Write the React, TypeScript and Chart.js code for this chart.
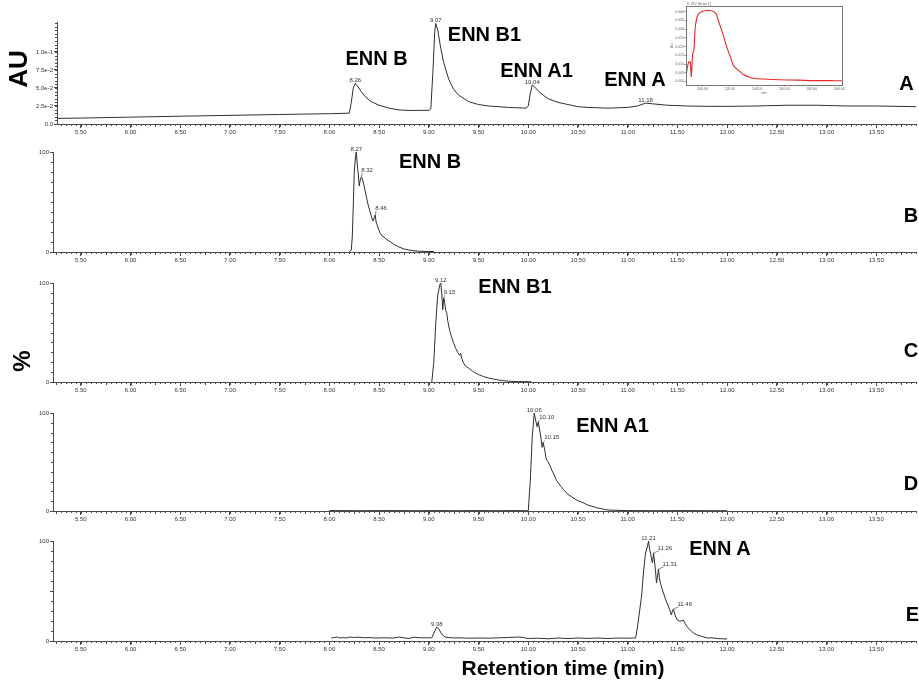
import React, { useEffect, useRef } from 'react';
import { Chart, registerables } from 'chart.js';

Chart.register(...registerables);

const FONT = "'Liberation Sans', Arial, Helvetica, sans-serif";
const TRACE = '#2e2e2e';
const AXIS = '#4a4a4a';
const TICK_TEXT = '#333';

// ---------- shared x axis (retention time, min) ----------
const timeTicks = [5.5, 6.0, 6.5, 7.0, 7.5, 8.0, 8.5, 9.0, 9.5, 10.0, 10.5, 11.0, 11.5, 12.0, 12.5, 13.0, 13.5];

// ---------- Panel A: UV chromatogram (AU) ----------
const uvTime = [5.26, 5.5, 6.0, 6.5, 7.0, 7.5, 8.0, 8.2, 8.22, 8.24, 8.26, 8.28, 8.32, 8.36, 8.42, 8.5, 8.6, 8.7, 8.8, 9.0, 9.02, 9.04, 9.06, 9.07, 9.09, 9.12, 9.15, 9.2, 9.25, 9.3, 9.4, 9.5, 9.6, 9.8, 9.98, 10.0, 10.02, 10.04, 10.06, 10.1, 10.15, 10.2, 10.3, 10.4, 10.5, 10.6, 10.8, 11.0, 11.1, 11.18, 11.25, 11.4, 11.6, 11.8, 12.0, 12.3, 12.6, 12.9, 13.2, 13.5, 13.9];
const uvAbs = [0.0078, 0.0082, 0.0095, 0.0108, 0.012, 0.0132, 0.0143, 0.015, 0.03, 0.05, 0.0565, 0.053, 0.045, 0.038, 0.031, 0.026, 0.022, 0.0195, 0.0188, 0.019, 0.021, 0.07, 0.13, 0.1395, 0.13, 0.105, 0.085, 0.062, 0.048, 0.04, 0.031, 0.027, 0.025, 0.023, 0.022, 0.025, 0.042, 0.054, 0.052, 0.046, 0.04, 0.035, 0.03, 0.027, 0.024, 0.023, 0.022, 0.023, 0.025, 0.029, 0.028, 0.026, 0.025, 0.0245, 0.0245, 0.025, 0.026, 0.026, 0.025, 0.025, 0.024];
const uvYTicks = [0, 0.025, 0.05, 0.075, 0.1];
const uvYTickLabels = ['0.0', '2.5e-2', '5.0e-2', '7.5e-2', '1.0e-1'];
const uvApexPeaks = [8.26, 9.07, 10.04, 11.18];

// ---------- Panel B: ENN B (%) ----------
const ennBTime = [8.2, 8.22, 8.23, 8.24, 8.25, 8.26, 8.27, 8.28, 8.29, 8.3, 8.31, 8.32, 8.33, 8.35, 8.37, 8.39, 8.41, 8.43, 8.44, 8.45, 8.46, 8.47, 8.49, 8.51, 8.53, 8.55, 8.57, 8.6, 8.63, 8.66, 8.7, 8.75, 8.8, 8.85, 8.9, 9.0, 9.05];
const ennBInt = [0, 2, 15, 45, 80, 92, 100, 88, 78, 66, 72, 75, 74, 66, 56, 47, 40, 33, 31, 34, 37, 30, 24, 19, 16, 15, 13, 11, 9, 7, 5, 3, 2, 1.2, 0.8, 0.5, 0.5];
const ennBApex = [8.27];
const ennBSide = [8.32, 8.46];

// ---------- Panel C: ENN B1 (%) ----------
const ennB1Time = [9.03, 9.05, 9.07, 9.09, 9.11, 9.12, 9.13, 9.14, 9.15, 9.16, 9.17, 9.18, 9.19, 9.21, 9.23, 9.25, 9.27, 9.29, 9.31, 9.32, 9.33, 9.35, 9.37, 9.4, 9.42, 9.44, 9.47, 9.5, 9.55, 9.6, 9.65, 9.7, 9.75, 9.8, 9.9, 10.0, 10.03];
const ennB1Int = [0, 20, 60, 88, 98, 100, 90, 73, 85, 80, 72, 70, 62, 52, 45, 39, 34, 30, 27, 29, 24, 19, 16, 14, 12.5, 11, 9, 7.5, 5.5, 4, 3, 2, 1.3, 0.8, 0.4, 0.3, 0.3];
const ennB1Apex = [9.12];
const ennB1Side = [9.15];

// ---------- Panel D: ENN A1 (%) ----------
const ennA1Time = [8.0, 8.3, 8.6, 8.9, 9.1, 9.3, 9.5, 9.7, 9.9, 10.0, 10.02, 10.04, 10.06, 10.08, 10.09, 10.1, 10.12, 10.14, 10.15, 10.17, 10.18, 10.2, 10.22, 10.24, 10.26, 10.28, 10.3, 10.33, 10.36, 10.4, 10.45, 10.5, 10.55, 10.6, 10.65, 10.7, 10.75, 10.8, 11.0, 11.3, 11.6, 11.8, 12.0];
const ennA1Int = [0.4, 0.3, 0.4, 0.3, 0.4, 0.3, 0.4, 0.3, 0.4, 0.2, 30, 75, 100, 90, 86, 91, 80, 65, 70, 60, 53, 50, 46, 41, 37, 32, 29, 25, 21, 17, 13.5, 10.5, 8.5, 6, 4.5, 3, 2, 1, 0.4, 0.3, 0.4, 0.3, 0.3];
const ennA1Apex = [10.06];
const ennA1Side = [10.1, 10.15];

// ---------- Panel E: ENN A (%) ----------
const ennATime = [8.02, 8.05, 8.08, 8.11, 8.14, 8.17, 8.2, 8.25, 8.3, 8.35, 8.4, 8.45, 8.5, 8.55, 8.6, 8.65, 8.7, 8.75, 8.8, 8.85, 8.9, 8.95, 9.0, 9.03, 9.06, 9.08, 9.1, 9.13, 9.16, 9.2, 9.25, 9.3, 9.4, 9.5, 9.6, 9.7, 9.8, 9.9, 9.95, 10.0, 10.1, 10.2, 10.3, 10.4, 10.5, 10.6, 10.7, 10.8, 10.9, 11.0, 11.06, 11.08, 11.1, 11.12, 11.14, 11.16, 11.18, 11.2, 11.21, 11.22, 11.23, 11.24, 11.25, 11.26, 11.27, 11.28, 11.29, 11.3, 11.31, 11.32, 11.34, 11.36, 11.38, 11.4, 11.42, 11.43, 11.44, 11.45, 11.46, 11.48, 11.5, 11.52, 11.54, 11.56, 11.58, 11.6, 11.63, 11.66, 11.7, 11.75, 11.8, 11.85, 11.9, 11.95, 12.0];
const ennAInt = [3, 3.5, 4, 3, 3.5, 3, 4, 3.5, 3.8, 3.2, 3.5, 3, 3, 3.2, 3, 3, 4, 3.2, 2.5, 3.8, 3.3, 3.2, 3.2, 3.3, 10, 14, 12, 7, 4, 3.5, 3, 3.2, 2.8, 3, 2.8, 3.2, 3.5, 4, 3.5, 2.5, 2.8, 2.2, 3, 2.5, 3, 2.6, 3, 2.5, 3, 2.8, 3, 3, 15, 30, 45, 70, 88, 95, 100, 92, 88, 82, 78, 88, 80, 70, 58, 65, 72, 62, 54, 48, 42, 37, 32, 29, 26, 30, 32, 25, 21, 20, 20, 21, 17, 14, 11, 8, 6, 4.5, 3, 3.2, 2.5, 2.2, 2];
const ennAApex = [9.08, 11.21];
const ennASide = [11.26, 11.31, 11.46];

const pctTicks = [0, 100];
const pctTickLabels = ['0', '100'];
const pctTicksE = [0, 50, 100];
const pctTickLabelsE = ['0', '', '100'];

// ---------- Inset: UV spectrum ----------
const specNm = [188, 189, 189.7, 190.9, 191.4, 191.9, 192.9, 193.8, 194.6, 195.8, 197, 198.2, 200, 203, 205.5, 207.9, 209.5, 210.4, 212, 214, 216, 217.7, 220, 222.5, 225, 227.4, 230, 233, 237, 245, 257, 270, 281, 292, 302];
const specAbs = [0.0029, 0.008, 0.0105, 0.0114, 0.008, 0.0029, 0.0162, 0.0181, 0.0295, 0.0362, 0.0385, 0.0394, 0.04, 0.0406, 0.0406, 0.04, 0.0392, 0.0381, 0.034, 0.0295, 0.0245, 0.02, 0.015, 0.0095, 0.0072, 0.0057, 0.004, 0.0028, 0.0019, 0.0014, 0.001, 0.0008, 0.0005, 0.0005, 0.0004];
const specXTicks = [200, 220, 240, 260, 280, 300];
const specYTicks = [0, 0.005, 0.01, 0.015, 0.02, 0.025, 0.03, 0.035, 0.04];
const specTitle = '1: 212 (Scan 1)';

// ---------- text annotations ----------
const compoundText = ['ENN B', 'ENN B1', 'ENN A1', 'ENN A'];
const panelLetters = ['A', 'B', 'C', 'D', 'E'];

type PanelProps = {
  times: number[];
  values: number[];
  top: number;
  height: number;
  padTop: number;
  xAxisH: number;
  axisLeft: number;
  xMin: number;
  xMax: number;
  yMax: number;
  yTicks: number[];
  yLabels: string[];
  yMinorStep: number;
  apex: number[];
  side: number[];
  sideDx: number;
  sideDy: number;
};

function valueAt(times: number[], values: number[], t: number) {
  let best = 0;
  for (let i = 1; i < times.length; i++) {
    if (Math.abs(times[i] - t) < Math.abs(times[best] - t)) best = i;
  }
  return values[best];
}

function Panel(p: PanelProps) {
  const ref = useRef<HTMLCanvasElement | null>(null);
  useEffect(() => {
    if (!ref.current) return;
    const minorTicks = {
      id: 'minorTicks',
      afterDraw(chart: any) {
        const ctx = chart.ctx;
        const xs = chart.scales.x;
        const ys = chart.scales.y;
        const area = chart.chartArea;
        ctx.save();
        ctx.strokeStyle = AXIS;
        ctx.lineWidth = 1;
        ctx.beginPath();
        const xStep = 0.05;
        for (let k = Math.ceil(p.xMin / xStep - 1e-6); k * xStep <= p.xMax + 1e-9; k++) {
          const px = Math.round(xs.getPixelForValue(k * xStep)) + 0.5;
          const len = k % 5 === 0 ? 3 : 2;
          ctx.moveTo(px, area.bottom);
          ctx.lineTo(px, area.bottom + len);
        }
        for (let k = 0; k * p.yMinorStep <= p.yMax + 1e-9; k++) {
          const py = Math.round(ys.getPixelForValue(k * p.yMinorStep)) + 0.5;
          ctx.moveTo(area.left, py);
          ctx.lineTo(area.left - 2, py);
        }
        ctx.stroke();
        ctx.restore();
      },
    };
    const peakLabels = {
      id: 'peakLabels',
      afterDatasetsDraw(chart: any) {
        const ctx = chart.ctx;
        const xs = chart.scales.x;
        const ys = chart.scales.y;
        ctx.save();
        ctx.font = `6px ${FONT}`;
        ctx.fillStyle = '#333';
        ctx.strokeStyle = '#555';
        ctx.lineWidth = 0.7;
        ctx.textBaseline = 'alphabetic';
        for (const t of p.apex) {
          const px = xs.getPixelForValue(t);
          const py = ys.getPixelForValue(valueAt(p.times, p.values, t));
          ctx.textAlign = 'center';
          ctx.fillText(t.toFixed(2), px, py - 1);
        }
        for (const t of p.side) {
          const px = xs.getPixelForValue(t);
          const py = ys.getPixelForValue(valueAt(p.times, p.values, t));
          ctx.textAlign = 'left';
          ctx.beginPath();
          ctx.moveTo(px, py);
          ctx.lineTo(px + p.sideDx + 1, py + p.sideDy + 1);
          ctx.stroke();
          ctx.fillText(t.toFixed(2), px + p.sideDx, py + p.sideDy);
        }
        ctx.restore();
      },
    };
    const chart = new Chart(ref.current, {
      type: 'line',
      data: {
        datasets: [
          {
            data: p.times.map((t, i) => ({ x: t, y: p.values[i] })),
            borderColor: TRACE,
            borderWidth: 1,
            pointRadius: 0,
            tension: 0,
            fill: false,
          },
        ],
      },
      options: {
        animation: false,
        responsive: false,
        maintainAspectRatio: false,
        events: [],
        layout: { padding: { top: p.padTop, right: 3, left: 0, bottom: 0 } },
        plugins: { legend: { display: false }, tooltip: { enabled: false } },
        scales: {
          x: {
            type: 'linear',
            bounds: 'data',
            min: p.xMin,
            max: p.xMax,
            afterBuildTicks: (s: any) => {
              s.ticks = timeTicks.map((v) => ({ value: v }));
            },
            afterFit: (s: any) => {
              s.height = p.xAxisH;
            },
            ticks: {
              autoSkip: false,
              maxRotation: 0,
              padding: 1,
              color: TICK_TEXT,
              font: { size: 6, family: FONT },
              callback: (v: any) => Number(v).toFixed(2),
            },
            grid: { drawOnChartArea: false, drawTicks: true, tickLength: 4, tickColor: AXIS },
            border: { display: true, color: AXIS, width: 1 },
          },
          y: {
            type: 'linear',
            bounds: 'data',
            min: 0,
            max: p.yMax,
            afterBuildTicks: (s: any) => {
              s.ticks = p.yTicks.map((v) => ({ value: v }));
            },
            afterFit: (s: any) => {
              s.width = p.axisLeft;
            },
            ticks: {
              autoSkip: false,
              padding: 1,
              color: TICK_TEXT,
              font: { size: 6, family: FONT },
              callback: (_v: any, i: number) => p.yLabels[i],
            },
            grid: { drawOnChartArea: false, drawTicks: true, tickLength: 3, tickColor: AXIS },
            border: { display: true, color: AXIS, width: 1 },
          },
        },
      } as any,
      plugins: [minorTicks, peakLabels],
    });
    return () => chart.destroy();
  }, []);
  return (
    <canvas
      ref={ref}
      width={919}
      height={p.height}
      style={{ position: 'absolute', left: 0, top: p.top, width: 919, height: p.height, display: 'block' }}
    />
  );
}

function Inset() {
  const ref = useRef<HTMLCanvasElement | null>(null);
  useEffect(() => {
    if (!ref.current) return;
    const frame = {
      id: 'frame',
      afterDraw(chart: any) {
        const { ctx, chartArea: a } = chart;
        ctx.save();
        ctx.strokeStyle = '#777';
        ctx.lineWidth = 1;
        ctx.strokeRect(Math.round(a.left) + 0.5, Math.round(a.top) + 0.5, Math.round(a.right - a.left), Math.round(a.bottom - a.top));
        ctx.font = `3.5px ${FONT}`;
        ctx.fillStyle = '#555';
        ctx.textAlign = 'left';
        ctx.textBaseline = 'bottom';
        ctx.fillText(specTitle, a.left + 1, a.top - 0.5);
        ctx.textAlign = 'center';
        ctx.textBaseline = 'top';
        ctx.fillText('nm', (a.left + a.right) / 2, a.bottom + 6.5);
        ctx.translate(a.left - 13.5, (a.top + a.bottom) / 2);
        ctx.rotate(-Math.PI / 2);
        ctx.textBaseline = 'middle';
        ctx.fillText('AU', 0, 0);
        ctx.restore();
      },
    };
    const chart = new Chart(ref.current, {
      type: 'line',
      data: {
        datasets: [
          {
            data: specNm.map((n, i) => ({ x: n, y: specAbs[i] })),
            borderColor: '#e8272a',
            borderWidth: 1.1,
            pointRadius: 0,
            tension: 0.3,
            fill: false,
          },
        ],
      },
      options: {
        animation: false,
        responsive: false,
        maintainAspectRatio: false,
        events: [],
        layout: { padding: { top: 6, right: 4, left: 0, bottom: 0 } },
        plugins: { legend: { display: false }, tooltip: { enabled: false } },
        scales: {
          x: {
            type: 'linear',
            bounds: 'data',
            min: 188,
            max: 302,
            afterBuildTicks: (s: any) => {
              s.ticks = specXTicks.map((v) => ({ value: v }));
            },
            afterFit: (s: any) => {
              s.height = 11;
            },
            ticks: { autoSkip: false, maxRotation: 0, padding: 0.5, color: '#666', font: { size: 3.5, family: FONT }, callback: (v: any) => Number(v).toFixed(2) },
            grid: { drawOnChartArea: false, tickLength: 1.5, tickColor: '#888' },
            border: { color: '#777' },
          },
          y: {
            type: 'linear',
            bounds: 'data',
            min: -0.002,
            max: 0.0432,
            afterBuildTicks: (s: any) => {
              s.ticks = specYTicks.map((v) => ({ value: v }));
            },
            afterFit: (s: any) => {
              s.width = 16;
            },
            ticks: { autoSkip: false, padding: 0.5, color: '#666', font: { size: 3.5, family: FONT }, callback: (v: any) => Number(v).toFixed(3) },
            grid: { drawOnChartArea: false, tickLength: 1.5, tickColor: '#888' },
            border: { color: '#777' },
          },
        },
      } as any,
      plugins: [frame],
    });
    return () => chart.destroy();
  }, []);
  return (
    <canvas
      ref={ref}
      width={176}
      height={96}
      style={{ position: 'absolute', left: 670, top: 0, width: 176, height: 96, display: 'block' }}
    />
  );
}

const bold = (size: number): React.CSSProperties => ({
  position: 'absolute',
  fontFamily: FONT,
  fontWeight: 700,
  fontSize: size,
  lineHeight: 1,
  whiteSpace: 'nowrap',
  color: '#000',
  transform: 'translate(-50%, -50%)',
});

// text annotation layout: [text, centre x, centre y]
const annotationLayout: [string, number, number][] = [
  [compoundText[0], 376.5, 57.5],
  [compoundText[1], 484.5, 33.5],
  [compoundText[2], 536.5, 70],
  [compoundText[3], 635, 78.5],
  [compoundText[0], 430, 160.5],
  [compoundText[1], 515, 285.5],
  [compoundText[2], 612.5, 425],
  [compoundText[3], 720, 547.5],
  [panelLetters[0], 906.5, 82.5],
  [panelLetters[1], 911, 215],
  [panelLetters[2], 911, 350],
  [panelLetters[3], 911, 483],
  [panelLetters[4], 912.5, 613.5],
];

export default function App() {
  const pctMinX = 5.22;
  const maxX = 13.9;
  return (
    <div style={{ position: 'fixed', left: 0, top: 0, width: 919, height: 683, background: '#fff', overflow: 'hidden' }}>
      <Panel times={uvTime} values={uvAbs} top={0} height={140} padTop={22} xAxisH={16} axisLeft={57} xMin={5.26} xMax={maxX} yMax={0.1415} yTicks={uvYTicks} yLabels={uvYTickLabels} yMinorStep={0.005} apex={uvApexPeaks} side={[]} sideDx={1} sideDy={-4} />
      <Panel times={ennBTime} values={ennBInt} top={140} height={130} padTop={12} xAxisH={18} axisLeft={53} xMin={pctMinX} xMax={maxX} yMax={100} yTicks={pctTicks} yLabels={pctTickLabels} yMinorStep={10} apex={ennBApex} side={ennBSide} sideDx={0} sideDy={-5} />
      <Panel times={ennB1Time} values={ennB1Int} top={270} height={130} padTop={13} xAxisH={18} axisLeft={53} xMin={pctMinX} xMax={maxX} yMax={100} yTicks={pctTicks} yLabels={pctTickLabels} yMinorStep={10} apex={ennB1Apex} side={ennB1Side} sideDx={0} sideDy={-3.5} />
      <Panel times={ennA1Time} values={ennA1Int} top={400} height={128} padTop={13} xAxisH={17} axisLeft={53} xMin={pctMinX} xMax={maxX} yMax={100} yTicks={pctTicks} yLabels={pctTickLabels} yMinorStep={10} apex={ennA1Apex} side={ennA1Side} sideDx={1} sideDy={-3} />
      <Panel times={ennATime} values={ennAInt} top={528} height={130} padTop={13} xAxisH={17} axisLeft={53} xMin={pctMinX} xMax={maxX} yMax={100} yTicks={pctTicksE} yLabels={pctTickLabelsE} yMinorStep={10} apex={ennAApex} side={ennASide} sideDx={4} sideDy={-3} />
      <Inset />
      {annotationLayout.map(([text, x, y], i) => (
        <div key={i} style={{ ...bold(20), left: x, top: y }}>
          {text}
        </div>
      ))}
      <div style={{ ...bold(26), left: 18, top: 69, transform: 'translate(-50%, -50%) rotate(-90deg)' }}>AU</div>
      <div style={{ ...bold(24), left: 22, top: 361, transform: 'translate(-50%, -50%) rotate(-90deg)' }}>%</div>
      <div style={{ ...bold(21), left: 563, top: 667 }}>Retention time (min)</div>
    </div>
  );
}
